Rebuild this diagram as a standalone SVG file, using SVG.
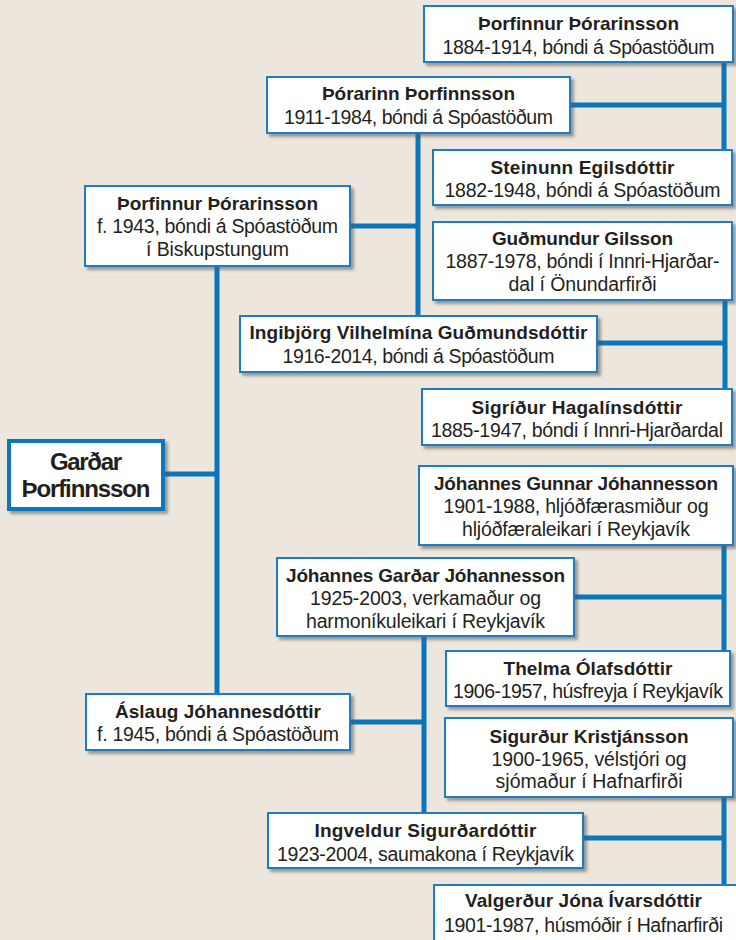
<svg xmlns="http://www.w3.org/2000/svg" width="736" height="940" viewBox="0 0 736 940">
<defs>
<filter id="sh" x="-10%" y="-10%" width="130%" height="140%">
<feDropShadow dx="3" dy="3" stdDeviation="1.5" flood-color="#555" flood-opacity="0.55"/>
</filter>
<style>
.box{fill:#fff;stroke:#1a7dc2;stroke-width:2;filter:url(#sh)}
.root{fill:#fff;stroke:#0f77bd;stroke-width:4;filter:url(#sh)}
.c{stroke:#0a76bb;stroke-width:5;fill:none}
text{font-family:"Liberation Sans",Arial,sans-serif;fill:#231f20;text-anchor:middle;font-size:19.5px}
.b{font-weight:bold;font-size:19px}
.big{font-weight:bold;font-size:24px}
</style>
</defs>
<rect width="736" height="940" fill="#ede6dc"/>
<g id="connectors">
<path class="c" d="M724,62V150M570,105H724"/>
<path class="c" d="M418,133V316M350,226H418"/>
<path class="c" d="M725,300V389M597,343H725"/>
<path class="c" d="M217,266V694M165,474H217"/>
<path class="c" d="M724,545V651M574,597H724"/>
<path class="c" d="M424,636V813M350,722H424"/>
<path class="c" d="M724,797V885M583,838H724"/>
</g>
<g id="n1"><rect class="box" x="424" y="6" width="309" height="56"/><text x="578.5" y="30" class="b" textLength="201">Þorfinnur Þórarinsson</text><text x="578.5" y="54" textLength="272">1884-1914, bóndi á Spóastöðum</text></g>
<g id="n2"><rect class="box" x="267" y="77" width="303" height="56"/><text x="418.5" y="100" class="b" textLength="193">Þórarinn Þorfinnsson</text><text x="418.5" y="124" textLength="269">1911-1984, bóndi á Spóastöðum</text></g>
<g id="n3"><rect class="box" x="433" y="150" width="299" height="55"/><text x="582.5" y="174" class="b" textLength="184">Steinunn Egilsdóttir</text><text x="582.5" y="197" textLength="276">1882-1948, bóndi á Spóastöðum</text></g>
<g id="n4"><rect class="box" x="85" y="186" width="265" height="80"/><text x="217.5" y="210" class="b" textLength="201">Þorfinnur Þórarinsson</text><text x="217.5" y="233" textLength="241">f. 1943, bóndi á Spóastöðum</text><text x="217.5" y="256" textLength="143">í Biskupstungum</text></g>
<g id="n5"><rect class="box" x="433" y="222" width="299" height="78"/><text x="582.5" y="245" class="b" textLength="181">Guðmundur Gilsson</text><text x="582.5" y="268" textLength="274">1887-1978, bóndi í Innri-Hjarðar-</text><text x="582.5" y="291" textLength="148">dal í Önundarfirði</text></g>
<g id="n6"><rect class="box" x="240" y="316" width="357" height="56"/><text x="418.5" y="339" class="b" textLength="338">Ingibjörg Vilhelmína Guðmundsdóttir</text><text x="418.5" y="363" textLength="272">1916-2014, bóndi á Spóastöðum</text></g>
<g id="n7"><rect class="box" x="422" y="389" width="310" height="56"/><text x="577" y="414" class="b" textLength="211">Sigríður Hagalínsdóttir</text><text x="577" y="437" textLength="292">1885-1947, bóndi í Innri-Hjarðardal</text></g>
<g id="n8"><rect class="root" x="9" y="441" width="154" height="68"/><text x="86" y="470" class="big" textLength="72">Garðar</text><text x="86" y="497" class="big" textLength="129">Þorfinnsson</text></g>
<g id="n9"><rect class="box" x="419" y="466" width="314" height="79"/><text x="576" y="490" class="b" textLength="284">Jóhannes Gunnar Jóhannesson</text><text x="576" y="513" textLength="265">1901-1988, hljóðfærasmiður og</text><text x="576" y="536" textLength="228">hljóðfæraleikari í Reykjavík</text></g>
<g id="n10"><rect class="box" x="277" y="558" width="297" height="78"/><text x="425.5" y="582" class="b" textLength="279">Jóhannes Garðar Jóhannesson</text><text x="425.5" y="605" textLength="231">1925-2003, verkamaður og</text><text x="425.5" y="628" textLength="239">harmoníkuleikari í Reykjavík</text></g>
<g id="n11"><rect class="box" x="446" y="651" width="284" height="55"/><text x="588" y="675" class="b" textLength="169">Thelma Ólafsdóttir</text><text x="588" y="698" textLength="270">1906-1957, húsfreyja í Reykjavík</text></g>
<g id="n12"><rect class="box" x="86" y="694" width="264" height="56"/><text x="218" y="718" class="b" textLength="206">Áslaug Jóhannesdóttir</text><text x="218" y="741" textLength="242">f. 1945, bóndi á Spóastöðum</text></g>
<g id="n13"><rect class="box" x="445" y="718" width="288" height="79"/><text x="589" y="743" class="b" textLength="199">Sigurður Kristjánsson</text><text x="589" y="766" textLength="195">1900-1965, vélstjóri og</text><text x="589" y="788" textLength="187">sjómaður í Hafnarfirði</text></g>
<g id="n14"><rect class="box" x="268" y="813" width="315" height="55"/><text x="425.5" y="837" class="b" textLength="222">Ingveldur Sigurðardóttir</text><text x="425.5" y="861" textLength="297">1923-2004, saumakona í Reykjavík</text></g>
<g id="n15"><rect class="box" x="434" y="885" width="310" height="65"/><text x="583.5" y="907" class="b" textLength="237">Valgerður Jóna Ívarsdóttir</text><text x="583.5" y="932" textLength="279">1901-1987, húsmóðir í Hafnarfirði</text></g>
</svg>
